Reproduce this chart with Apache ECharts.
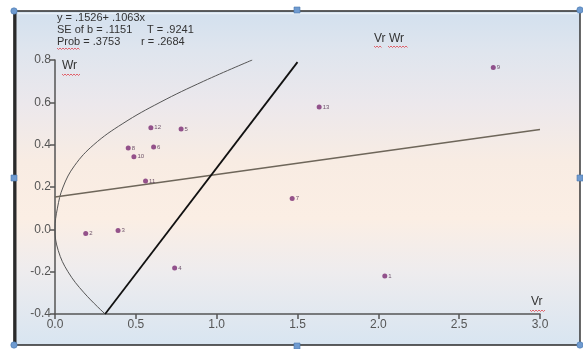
<!DOCTYPE html>
<html>
<head>
<meta charset="utf-8">
<style>
  html, body { margin: 0; padding: 0; background: #ffffff; }
  #chart { width: 583px; height: 349px; }
</style>
<script src="https://cdn.jsdelivr.net/npm/echarts@6/dist/echarts.min.js"></script>
</head>
<body>
<div id="chart"></div>
<script>
// Vr / Wr graph: array points, regression line, unit-slope line and limiting parabola
const arrayNames = ['1', '2', '3', '4', '5', '6', '7', '8', '9', '10', '11', '12', '13'];
const vrValues = [2.04, 0.19, 0.39, 0.74, 0.78, 0.61, 1.467, 0.453, 2.711, 0.488, 0.56, 0.593, 1.634];
const wrValues = [-0.22, -0.02, -0.005, -0.183, 0.474, 0.389, 0.146, 0.384, 0.765, 0.343, 0.228, 0.480, 0.578];

// regression Wr = a + b·Vr
const regIntercept = 0.1526;
const regSlope = 0.1063;
const regVrRange = [0, 3.0];

// unit-slope line end points
const unitLineVr = [0.31, 1.50];
const unitLineWr = [-0.4, 0.79];

// limiting parabola, traced point by point
const parabolaWr = [-0.4, -0.3, -0.2, -0.1, 0, 0.1, 0.2, 0.3, 0.4, 0.5, 0.6, 0.7, 0.8];
const parabolaVr = [0.31, 0.18, 0.08, 0.02, 0, 0.015, 0.05, 0.12, 0.24, 0.42, 0.65, 0.92, 1.22];

// axis ticks
const xTicks = [0, 0.5, 1.0, 1.5, 2.0, 2.5, 3.0];
const yTicks = [-0.4, -0.2, 0.0, 0.2, 0.4, 0.6, 0.8];

const statLines = [
  ['y = .1526+ .1063x', ''],
  ['SE of b = .1151', 'T = .9241'],
  ['Prob = .3753', 'r = .2684']
];

const FONT = '"Liberation Sans", Arial, sans-serif';

const chart = echarts.init(document.getElementById('chart'), null, { renderer: 'canvas' });

function wavy(x0, x1, y) {
  const pts = [];
  let up = true;
  for (let x = x0; x <= x1; x += 1.5) {
    pts.push([x, up ? y : y + 1.5]);
    up = !up;
  }
  return {
    type: 'polyline', z: 50,
    shape: { points: pts },
    style: { stroke: '#e0404a', lineWidth: 0.8, fill: null }
  };
}

function handle(x, y, square) {
  if (square) {
    return { type: 'rect', z: 60, shape: { x: x - 3, y: y - 3, width: 6, height: 6 },
      style: { fill: '#6f9bd0', stroke: '#4a78b0', lineWidth: 0.6 } };
  }
  return { type: 'circle', z: 60, shape: { cx: x, cy: y, r: 3.2 },
    style: { fill: '#6f9bd0', stroke: '#4a78b0', lineWidth: 0.6 } };
}

const graphics = [
  // framed panel with soft vertical gradient
  {
    type: 'rect', z: -100,
    shape: { x: 14, y: 11, width: 566, height: 334 },
    style: {
      fill: new echarts.graphic.LinearGradient(0, 0, 0, 1, [
        { offset: 0, color: '#d2e0ee' },
        { offset: 0.12, color: '#dfe5ee' },
        { offset: 0.28, color: '#ece8ec' },
        { offset: 0.45, color: '#f8ece3' },
        { offset: 0.62, color: '#fbeee4' },
        { offset: 0.78, color: '#eeecee' },
        { offset: 1, color: '#d8e5f1' }
      ]),
      stroke: '#2a2a2a', lineWidth: 1.4
    }
  },
  { type: 'line', z: -90, shape: { x1: 18, y1: 13.5, x2: 577, y2: 13.5 }, style: { stroke: 'rgba(255,255,255,0.5)', lineWidth: 1.5 } },
  { type: 'line', z: 55, shape: { x1: 15, y1: 11, x2: 15, y2: 345 }, style: { stroke: '#2a2a2a', lineWidth: 3 } },
  handle(14, 11, false), handle(297, 10, true), handle(580, 10, false),
  handle(14, 178, true), handle(580, 178, true),
  handle(14, 345, false), handle(297, 346, true), handle(580, 345, false),
  // regression statistics
  { type: 'text', z: 50, left: 57, top: 12, style: { text: statLines[0][0], font: '11px ' + FONT, fill: '#333' } },
  { type: 'text', z: 50, left: 57, top: 24, style: { text: statLines[1][0], font: '11px ' + FONT, fill: '#333' } },
  { type: 'text', z: 50, left: 147, top: 24, style: { text: statLines[1][1], font: '11px ' + FONT, fill: '#333' } },
  { type: 'text', z: 50, left: 57, top: 36, style: { text: statLines[2][0], font: '11px ' + FONT, fill: '#333' } },
  { type: 'text', z: 50, left: 141, top: 36, style: { text: statLines[2][1], font: '11px ' + FONT, fill: '#333' } },
  wavy(57, 80, 48),
  // axis names and title
  { type: 'text', z: 50, left: 62, top: 60, style: { text: 'Wr', font: '12px ' + FONT, fill: '#333' } },
  wavy(62, 80, 74),
  { type: 'text', z: 50, left: 374, top: 33, style: { text: 'Vr Wr', font: '12px ' + FONT, fill: '#333' } },
  wavy(374, 382, 46), wavy(388, 408, 46),
  { type: 'text', z: 50, left: 531, top: 296, style: { text: 'Vr', font: '12px ' + FONT, fill: '#333' } },
  wavy(530, 546, 310)
];

const regLine = regVrRange.map(v => [v, regIntercept + regSlope * v]);
const unitLine = unitLineVr.map((v, i) => [v, unitLineWr[i]]);
const parabola = parabolaVr.map((v, i) => [v, parabolaWr[i]]);
const points = vrValues.map((v, i) => ({ name: arrayNames[i], value: [v, wrValues[i]] }));

const option = {
  backgroundColor: '#ffffff',
  animation: false,
  grid: { left: 55, right: 43, top: 60, bottom: 35, containLabel: false },
  xAxis: {
    type: 'value', min: 0, max: 3, interval: 0.5,
    axisLine: { show: true, onZero: false, lineStyle: { color: '#555', width: 1.5 } },
    axisTick: { show: true, length: 5, lineStyle: { color: '#555', width: 1.5 } },
    axisLabel: { color: '#555', fontSize: 12, fontFamily: FONT, margin: 5,
      formatter: v => xTicks.includes(v) ? v.toFixed(1) : '' },
    splitLine: { show: false }
  },
  yAxis: {
    type: 'value', min: -0.4, max: 0.8, interval: 0.2,
    axisLine: { show: true, onZero: false, lineStyle: { color: '#555', width: 1.5 } },
    axisTick: { show: true, length: 5, lineStyle: { color: '#555', width: 1.5 } },
    axisLabel: { color: '#555', fontSize: 12, fontFamily: FONT, margin: 4,
      formatter: v => {
        const t = yTicks.find(k => Math.abs(k - v) < 1e-6);
        return t === undefined ? '' : t.toFixed(1);
      } },
    splitLine: { show: false }
  },
  graphic: graphics,
  series: [
    {
      name: 'parabola', type: 'line', data: parabola, smooth: 0.4, symbol: 'none',
      lineStyle: { color: '#555', width: 1 }, z: 3
    },
    {
      name: 'regression', type: 'line', data: regLine, symbol: 'none',
      lineStyle: { color: '#6e665a', width: 1.6 }, z: 3
    },
    {
      name: 'unit slope', type: 'line', data: unitLine, symbol: 'none',
      lineStyle: { color: '#111', width: 1.8 }, z: 4
    },
    {
      name: 'arrays', type: 'scatter', data: points, symbolSize: 5,
      itemStyle: { color: '#7b2a73' }, z: 5,
      label: { show: true, position: 'right', distance: 1, formatter: p => p.name,
        fontSize: 6, color: '#4a2a48', fontFamily: FONT }
    }
  ]
};

chart.setOption(option);
</script>
</body>
</html>
